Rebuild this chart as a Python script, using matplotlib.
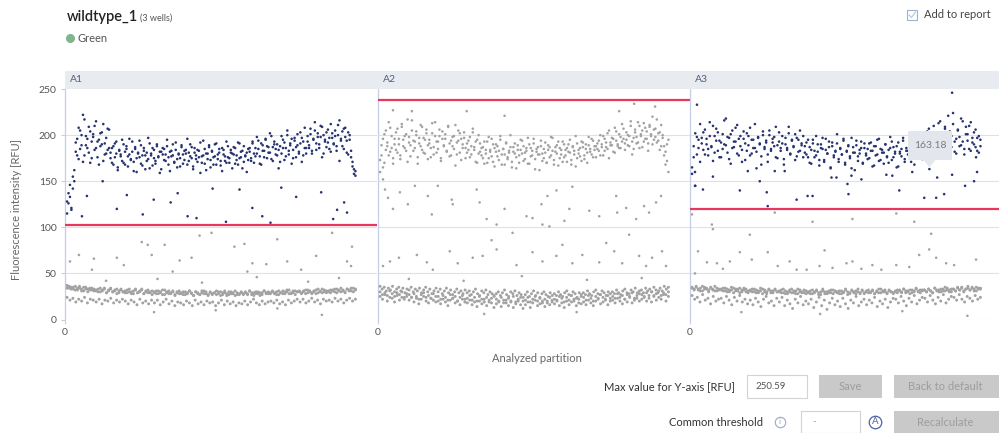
import numpy as np
import matplotlib.pyplot as plt
from matplotlib.patches import Rectangle, Polygon
from matplotlib.lines import Line2D
from matplotlib.transforms import IdentityTransform

plt.rcParams['font.family'] = ['Lato', 'DejaVu Sans']

W, H = 999, 433
Y_MAX = 250.59
X_MAX = 9110          # partition axis range of one well
X_START, X_END = 60, 8480

wells = ["A1", "A2", "A3"]
thresholds = [102.5, 238.0, 119.5]

# positive-cluster droplets, in partition order (two read passes per well)
A1_POS = [115, 126, 133, 121, 142, 150,
          182, 196, 174, 205, 189, 222, 178, 199, 186, 209, 170, 193, 201, 184, 215, 176, 195, 188, 203, 172, 191, 180, 207, 186,
          175, 186, 168, 191, 180, 162, 184, 177, 195, 170, 182, 188,
          166, 179, 174, 193, 171, 185, 160, 181, 176, 189, 167, 183,
          178, 172, 197, 164, 180, 186, 175, 169, 190, 177, 182, 163,
          179, 185, 172, 188, 176, 161, 183, 178, 170, 192, 174, 180,
          166, 187, 179, 173, 184, 168, 181, 190, 175, 163, 186, 178,
          171, 183, 159, 177, 194, 169, 180, 174, 187, 165, 182, 176,
          190, 168, 179, 185, 172, 161, 184, 177, 170, 188, 175, 181,
          164, 179, 186, 173, 168, 191, 176, 183, 171, 178, 160, 185,
          182, 175, 191, 170, 186, 180, 194, 177, 168, 189,
          183, 196, 175, 187, 181, 199, 172, 190, 185, 178,
          164, 188, 180, 195, 173, 186, 200, 179, 191, 169,
          184, 197, 176, 189, 182, 203, 171, 193, 186, 180,
          193, 186, 201, 180, 195, 205, 184, 198, 190, 210,
          176, 200, 193, 187, 206, 197, 182, 202, 191, 199,
          188, 211, 172, 196, 204, 185, 208, 194, 179, 200,
          176, 166, 158, 161]
A1_POS_B = [128, 137, 146, 119, 155, 162,
            192, 178, 208, 185, 200, 171, 217, 189, 196, 181, 204, 175, 198, 210, 186, 193, 168, 202, 190, 212, 179, 197, 184, 206,
            181, 170, 188, 176, 193, 165, 183, 179, 172, 190, 168, 185,
            177, 196, 173, 182, 161, 187, 175, 180, 194, 169, 178, 186,
            163, 181, 174, 191, 178, 167, 184, 172, 188, 176, 159, 182,
            186, 173, 179, 195, 168, 182, 177, 190, 171, 184, 165, 179,
            175, 189, 169, 183, 180, 196, 172, 177, 187, 166, 181, 174,
            184, 176, 192, 170, 178, 185, 162, 180, 189, 173, 183, 168,
            177, 191, 174, 181, 167, 186, 179, 172, 193, 176, 170, 184,
            180, 187, 169, 178, 192, 175, 182, 164, 188, 177, 181, 173,
            186, 172, 193, 180, 177, 198, 185, 169, 191, 183,
            176, 195, 188, 181, 202, 174, 187, 193, 179, 190,
            184, 171, 199, 186, 192, 177, 205, 183, 189, 196,
            175, 194, 187, 201, 180, 191, 197, 178, 208, 186,
            199, 189, 207, 183, 196, 214, 191, 202, 186, 198,
            209, 180, 195, 203, 192, 185, 212, 197, 190, 205,
            183, 200, 216, 194, 188, 207, 198, 181, 203, 195,
            183, 171, 163, 156]
A2_POS = [160, 178, 196, 170, 205, 188, 214, 182, 199, 175,
          196, 184, 207, 190, 178, 212, 195, 186, 201, 171,
          198, 189, 216, 183, 193, 204, 176, 197, 188, 209,
          181, 195, 202, 174, 191, 186, 213, 179, 199, 193,
          185, 206, 172, 196, 189, 201, 183, 210, 177, 194,
          188, 199, 167, 192, 205, 181, 196, 186, 203, 175,
          191, 184, 198, 179, 207, 187, 193, 170, 200, 182,
          186, 175, 193, 180, 170, 198, 184, 177, 190, 166,
          182, 188, 173, 195, 179, 185, 168, 191, 176, 183,
          200, 171, 187, 180, 164, 189, 178, 184, 194, 172,
          181, 186, 169, 190, 177, 183, 196, 174, 185, 179,
          162, 188, 180, 175, 192, 170, 184, 187, 178, 197,
          173, 182, 189, 167, 186, 179, 193, 176, 184, 171,
          190, 181, 168, 187, 183, 199, 175, 180, 186, 172,
          192, 178, 185, 170, 189, 182, 196, 176, 184, 188,
          185, 194, 178, 190, 199, 183, 187, 202, 175, 192,
          189, 196, 181, 204, 190, 186, 198, 193, 207, 184,
          195, 200, 188, 210, 179, 197, 203, 191, 214, 186,
          199, 205, 193, 208, 196, 183, 211, 201, 190, 206,
          198, 217, 194, 203, 188, 200, 178, 168, 190, 160]
A2_POS_B = [173, 189, 165, 201, 184, 192, 178, 208, 186, 169,
            190, 203, 181, 196, 174, 209, 188, 199, 183, 217,
            192, 177, 205, 194, 186, 200, 169, 191, 211, 184,
            197, 180, 206, 189, 195, 176, 202, 187, 214, 181,
            193, 199, 175, 204, 188, 196, 182, 209, 191, 178,
            198, 185, 211, 179, 194, 202, 173, 190, 197, 186,
            181, 194, 176, 188, 203, 184, 171, 195, 180, 191,
            178, 187, 169, 184, 193, 175, 182, 196, 171, 186,
            190, 177, 183, 199, 168, 185, 179, 192, 174, 181,
            187, 165, 182, 191, 176, 184, 170, 195, 180, 188,
            174, 183, 197, 169, 186, 178, 191, 163, 182, 187,
            179, 194, 172, 185, 181, 170, 189, 176, 198, 183,
            168, 187, 180, 193, 175, 184, 171, 190, 178, 186,
            182, 195, 173, 188, 179, 166, 191, 184, 177, 193,
            187, 174, 190, 181, 198, 185, 179, 194, 188, 176,
            191, 183, 200, 187, 178, 196, 192, 185, 205, 189,
            197, 182, 208, 194, 188, 201, 186, 212, 196, 191,
            203, 189, 199, 215, 193, 185, 206, 198, 192, 210,
            201, 187, 213, 196, 204, 191, 209, 199, 220, 195,
            207, 192, 202, 184, 211, 197, 188, 182, 172, 195]
A3_POS = [158, 176, 145, 198, 186, 212,
          191, 203, 179, 196, 185, 214, 188, 172, 199, 207,
          183, 194, 176, 201, 190, 218, 181, 197, 169, 205,
          187, 193, 211, 178, 199, 184, 196, 173, 202, 189,
          208, 180, 195, 186, 164, 198, 191, 177, 204, 185,
          192, 171, 200, 183, 196, 188, 209, 175, 193, 186,
          199, 168, 190, 184, 202, 179, 195, 187, 173, 197,
          182, 205, 189, 176,
          188, 179, 195, 170, 184, 191, 176, 199, 182, 167,
          190, 185, 173, 196, 180, 187, 164, 192, 178, 183,
          201, 171, 186, 179, 194, 168, 182, 188, 175, 197,
          181, 162, 189, 177, 184, 193, 170, 186, 180, 174,
          191, 183, 166, 188, 178, 195, 172, 185, 181, 169,
          190, 176, 184, 198, 173, 187, 180, 165, 192, 182,
          177, 194, 171, 186, 183, 200, 175, 189, 168, 184,
          196, 179, 188, 174,
          192, 181, 204, 186, 197, 175, 210, 189, 200, 183,
          215, 194, 178, 207, 190, 221, 186, 199, 212, 182,
          196, 205, 188, 218, 193, 179, 209, 201, 185, 214,
          197, 190, 206, 183, 199, 188]
A3_POS_B = [165, 188, 202, 179, 195, 171,
            197, 184, 206, 190, 178, 199, 187, 210, 181, 194,
            203, 176, 192, 185, 216, 189, 198, 174, 201, 186,
            193, 208, 180, 196, 188, 171, 204, 191, 183, 199,
            178, 195, 186, 212, 182, 197, 190, 168, 200, 187,
            194, 179, 205, 185, 192, 198, 176, 189, 203, 183,
            191, 174, 197, 186, 209, 180, 194, 188, 201, 177,
            195, 183, 191, 199,
            181, 192, 176, 187, 169, 195, 183, 178, 190, 173,
            186, 197, 171, 184, 180, 193, 165, 188, 176, 182,
            191, 174, 185, 179, 196, 170, 183, 189, 177, 164,
            187, 181, 194, 172, 180, 186, 169, 191, 178, 185,
            175, 192, 183, 167, 188, 179, 196, 173, 184, 181,
            190, 177, 170, 186, 193, 176, 182, 188, 166, 180,
            185, 197, 174, 183, 179, 191, 171, 186, 194, 178,
            182, 189, 176, 192,
            186, 198, 183, 207, 191, 178, 202, 195, 188, 213,
            184, 200, 192, 209, 181, 196, 204, 187, 224, 193,
            180, 206, 198, 189, 215, 185, 201, 194, 210, 183,
            192, 203, 187, 197, 181, 195]

# negative droplets
A1_NEG_HI = [37, 34, 35, 33, 36, 32, 34, 31, 35, 33, 30, 34, 32, 33,
             31, 33, 30, 32, 34, 29, 31, 33, 30, 32, 28, 31, 33, 30,
             29, 32, 30, 28, 31, 33, 29, 30, 32, 28, 31, 29, 30, 27,
             30, 28, 31, 29, 27, 32, 30, 28, 29, 31, 27, 30, 28, 29,
             27, 30, 28, 31, 29, 26, 30, 28, 27, 29, 31, 28, 26, 30,
             28, 29, 27, 30, 26, 29, 31, 28, 27, 30, 28, 26, 29, 27,
             29, 27, 30, 28, 31, 27, 29, 28, 30, 26, 29, 31, 28, 30,
             28, 30, 29, 27, 31, 29, 28, 30, 32, 28, 29, 31, 27, 30,
             30, 29, 31, 28, 32, 30, 29, 31, 28, 33, 30, 29, 32, 31,
             31, 29, 32, 30, 33, 31, 30, 32, 29, 33, 31, 34, 30, 32]
A1_NEG_HI2 = [34, 36, 33, 35, 32, 34, 36, 33, 31, 35, 33, 32, 34, 31,
              32, 30, 34, 31, 33, 29, 32, 34, 30, 31, 33, 29, 32, 30,
              31, 29, 33, 30, 28, 32, 29, 31, 33, 28, 30, 32, 29, 31,
              29, 31, 28, 30, 32, 27, 29, 31, 28, 30, 26, 29, 31, 28,
              30, 27, 29, 31, 28, 26, 30, 29, 27, 31, 28, 30, 27, 29,
              27, 29, 31, 28, 30, 27, 29, 26, 30, 28, 29, 31, 27, 28,
              30, 28, 29, 27, 31, 29, 26, 30, 28, 29, 27, 31, 29, 28,
              29, 31, 28, 30, 27, 29, 31, 28, 30, 32, 28, 29, 31, 30,
              31, 28, 30, 32, 29, 31, 28, 30, 32, 29, 31, 33, 30, 29,
              30, 32, 31, 33, 29, 32, 34, 31, 30, 33, 32, 31, 34, 33]
A1_NEG_LO = [24, 21, 23, 19, 22, 20, 24, 18, 22, 21,
             19, 22, 17, 21, 20, 23, 18, 21, 19, 22,
             20, 17, 21, 19, 16, 22, 18, 20, 17, 21,
             18, 21, 16, 19, 22, 17, 20, 15, 19, 18,
             16, 20, 18, 15, 21, 17, 19, 16, 20, 18,
             19, 15, 18, 21, 16, 20, 17, 19, 15, 18,
             17, 20, 16, 19, 22, 18, 16, 20, 17, 19,
             20, 18, 21, 17, 19, 16, 21, 18, 20, 22,
             19, 22, 18, 20, 23, 19, 21, 17, 22, 20,
             21, 19, 23, 20, 22, 18, 21, 23, 20, 22]
A2_NEG_HI = [36, 33, 35, 31, 34, 32, 36, 30, 33, 35, 31, 34, 29, 33,
             32, 35, 30, 33, 31, 34, 29, 32, 35, 30, 33, 28, 31, 34,
             30, 33, 28, 31, 34, 29, 32, 27, 30, 33, 29, 31, 28, 32,
             29, 31, 27, 30, 33, 28, 26, 31, 29, 32, 27, 30, 28, 25,
             28, 30, 26, 29, 32, 27, 25, 30, 28, 31, 26, 29, 27, 24,
             27, 30, 25, 28, 31, 26, 29, 24, 28, 30, 27, 25, 29, 26,
             28, 26, 30, 27, 25, 29, 31, 27, 26, 30, 28, 24, 29, 27,
             29, 27, 31, 28, 26, 30, 32, 28, 27, 31, 29, 26, 30, 28,
             30, 28, 32, 29, 27, 31, 33, 29, 28, 32, 30, 34, 29, 31,
             32, 29, 34, 31, 33, 30, 35, 32, 29, 34, 31, 36, 33, 35]
A2_NEG_MID = [30, 27, 29, 26, 31, 28, 25, 29, 27, 30, 24, 28,
              27, 24, 28, 25, 22, 27, 29, 24, 26, 23, 28, 25,
              25, 22, 26, 24, 21, 27, 23, 25, 20, 24, 26, 22,
              23, 26, 21, 24, 20, 25, 22, 19, 24, 21, 23, 26,
              22, 19, 24, 21, 18, 23, 20, 25, 19, 22, 24, 20,
              21, 24, 19, 22, 25, 20, 23, 18, 22, 20, 24, 21,
              22, 20, 25, 23, 19, 24, 21, 26, 20, 23, 22, 25,
              24, 21, 26, 23, 20, 25, 22, 27, 24, 21, 26, 23,
              25, 23, 28, 24, 26, 22, 27, 25, 29, 23, 26, 28,
              27, 24, 29, 26, 30, 25, 28, 31, 26, 29, 27, 30]
A2_NEG_LO = [25, 22, 27, 20, 24, 23, 19, 26, 21, 24, 22, 25,
             21, 24, 19, 23, 17, 22, 25, 20, 18, 23, 21, 19,
             20, 17, 22, 19, 15, 21, 23, 18, 20, 16, 22, 19,
             18, 21, 16, 19, 14, 20, 17, 22, 15, 19, 18, 13,
             17, 20, 14, 18, 21, 15, 19, 13, 17, 20, 16, 12,
             16, 19, 13, 18, 21, 15, 17, 20, 14, 18, 16, 19,
             17, 21, 15, 18, 13, 20, 16, 19, 22, 15, 18, 17,
             19, 16, 21, 18, 15, 20, 23, 17, 19, 22, 16, 20,
             21, 18, 23, 20, 17, 22, 19, 24, 18, 21, 23, 20,
             22, 25, 20, 23, 19, 26, 21, 24, 22, 27, 20, 25]
A3_NEG_HI = [35, 33, 36, 32, 34, 31, 35, 33, 30, 34, 32, 36, 31, 33,
             33, 31, 34, 30, 32, 35, 29, 33, 31, 34, 30, 32, 33, 29,
             32, 30, 33, 29, 31, 34, 28, 32, 30, 33, 29, 31, 32, 30,
             31, 29, 33, 28, 30, 32, 29, 31, 28, 33, 30, 29, 32, 28,
             30, 28, 32, 29, 31, 27, 30, 33, 28, 30, 29, 32, 28, 31,
             29, 31, 28, 30, 32, 27, 29, 31, 30, 28, 33, 29, 31, 28,
             30, 32, 29, 31, 28, 30, 33, 29, 31, 30, 28, 32, 30, 29,
             31, 29, 32, 30, 33, 29, 31, 28, 32, 30, 34, 31, 29, 32,
             32, 30, 33, 31, 29, 34, 32, 30, 33, 31, 35, 32, 30, 33,
             33, 31, 35, 32, 34, 30, 33, 36, 32, 34, 31, 35, 33, 34]
A3_NEG_HI2 = [34, 32, 35, 33, 31, 36, 33, 34, 32, 35, 33, 31, 34, 32,
              32, 34, 31, 33, 30, 32, 34, 31, 33, 29, 32, 34, 30, 31,
              31, 33, 30, 32, 29, 31, 33, 30, 28, 32, 31, 29, 33, 30,
              30, 32, 29, 31, 28, 30, 33, 29, 31, 28, 32, 30, 29, 31,
              29, 31, 28, 30, 32, 29, 27, 31, 30, 28, 31, 29, 32, 30,
              30, 28, 31, 29, 33, 30, 28, 32, 29, 31, 30, 28, 32, 29,
              31, 29, 30, 32, 28, 31, 29, 33, 30, 32, 29, 31, 30, 28,
              30, 32, 31, 29, 33, 31, 30, 32, 29, 31, 33, 30, 32, 31,
              32, 30, 33, 31, 29, 34, 31, 32, 30, 33, 31, 34, 32, 30,
              33, 31, 34, 32, 35, 31, 33, 34, 32, 35, 33, 31, 34, 33]
A3_NEG_LO = [26, 22, 24, 19, 27, 21, 23, 17, 25, 20, 22,
             23, 18, 25, 21, 16, 24, 20, 26, 19, 22, 17,
             21, 16, 23, 19, 14, 22, 25, 18, 20, 15, 23,
             19, 24, 15, 21, 17, 12, 22, 18, 25, 16, 20,
             17, 22, 13, 19, 24, 15, 21, 11, 18, 23, 16,
             20, 14, 23, 17, 12, 21, 18, 25, 15, 19, 22,
             16, 21, 18, 24, 14, 20, 17, 22, 13, 19, 23,
             22, 18, 25, 20, 15, 23, 19, 26, 17, 21, 24,
             23, 19, 26, 21, 17, 24, 20, 27, 18, 22, 25,
             24, 21, 27, 22, 19, 25, 23, 20, 26, 22, 24]

# scattered droplets between the clusters ("rain"), partition / RFU
A1_RAIN_X = [640, 495, 1513, 1805, 2270, 2590, 3085, 3290, 3580, 3840, 4310, 5095, 5470, 5760,
             6315, 6750, 7480, 7830, 7945, 8150, 8235, 1100, 4700, 6000,
             146, 407, 786, 844, 1513, 1717, 2241, 2416, 2532, 2910, 3143, 3347, 3696, 3929,
             4278, 4947, 5238, 5325, 5471, 5878, 6198, 6489, 6897, 7334, 7800, 8236, 8381, 8352,
             1200, 2700, 4000, 5600, 7100, 8000, 2600, 4400, 7500, 6200]
A1_RAIN_Y = [134, 112, 120, 135, 114, 130, 127, 137, 112, 110, 142, 141, 121, 112,
             143, 133, 138, 109, 119, 127, 116, 150, 106, 105,
             63, 70, 54, 66, 67, 59, 84, 81, 70, 81, 52, 64, 67, 91,
             94, 79, 82, 52, 61, 60, 87, 63, 54, 69, 94, 63, 79, 58,
             42, 44, 40, 46, 41, 45, 8, 10, 5, 12]
A2_RAIN_X = [437, 990, 2590, 3696, 7042, 7479, 8090,
             146, 204, 291, 437, 640, 873, 1077, 1455, 1571, 1746, 2153, 2183, 2881, 2968,
             3172, 3463, 3696, 4336, 4511, 4772, 4802, 4947, 5209, 5442, 5587, 5675, 6169, 6460,
             6955, 6984, 7246, 7537, 7770, 7915, 8119, 8264,
             146, 349, 611, 1135, 1426, 1601, 2095, 2328, 2765, 3056, 3317, 3463, 3929, 4045,
             4511, 4802, 5005, 5209, 5384, 5675, 5966, 6460, 6664, 6897, 7130, 7333, 7624, 7828,
             8003, 8294, 8410, 900, 2500, 4200, 6100, 7700, 3100, 5800]
A2_RAIN_Y = [227, 226, 226, 221, 226, 234, 231,
             152, 141, 132, 120, 138, 125, 145, 134, 114, 145, 130, 125, 141, 127,
             109, 103, 120, 112, 110, 125, 103, 134, 140, 107, 120, 144, 118, 112,
             134, 116, 121, 109, 123, 116, 127, 134,
             58, 63, 67, 70, 62, 54, 74, 61, 67, 69, 86, 76, 94, 59,
             73, 63, 101, 69, 81, 61, 70, 62, 83, 74, 61, 92, 69, 58,
             67, 74, 58, 44, 42, 47, 43, 45, 6, 8]
A3_RAIN_X = [204, 146, 146, 378, 669, 1455, 1688, 2037, 2241, 2270, 2474, 2765, 3114, 3434,
             3579, 4132, 4277, 4598, 4627, 4714, 5005, 5733, 5907, 6111, 6489, 6839, 6990, 7188,
             7217, 7421, 7653, 7653, 8032, 8294, 8352, 8381,
             58, 640, 669, 1746, 2474, 3579, 4743, 6024, 6548, 7042,
             233, 495, 786, 960, 1164, 1455, 1804, 2270, 2561, 2910, 3114, 3405, 3783, 3929,
             4161, 4569, 4743, 5005, 5325, 5587, 6024, 6402, 6693, 6984, 7188, 7479, 7712, 8352,
             146, 1500, 3800, 6200, 8100]
A3_RAIN_Y = [233, 160, 145, 141, 155, 140, 161, 150, 138, 123, 161, 161, 130, 134,
             134, 154, 154, 147, 136, 156, 152, 157, 156, 140, 160, 132, 163.18, 132,
             154, 136, 246, 157, 145, 150, 176, 160,
             114, 103, 98, 92, 116, 106, 109, 115, 106, 93,
             74, 62, 61, 55, 63, 73, 65, 73, 58, 63, 54, 54, 58, 75,
             56, 61, 63, 55, 59, 54, 59, 57, 70, 76, 67, 61, 59, 65,
             50, 8, 6, 9, 4]

CLUSTERS = [
    [A1_NEG_LO, A1_NEG_HI, A1_NEG_HI2, A1_POS, A1_POS_B],
    [A2_NEG_LO, A2_NEG_MID, A2_NEG_HI, A2_POS, A2_POS_B],
    [A3_NEG_LO, A3_NEG_HI, A3_NEG_HI2, A3_POS, A3_POS_B],
]
RAIN_X = [A1_RAIN_X, A2_RAIN_X, A3_RAIN_X]
RAIN_Y = [A1_RAIN_Y, A2_RAIN_Y, A3_RAIN_Y]

# hovered droplet
TIP_WELL, TIP_X, TIP_Y = 2, 6990, 163.18

BLUE = '#26336f'
GRAY = '#a2a2a2'
GRID = '#dbe1f2'
EDGE = '#c6cde6'
RED = '#e8365d'


def fx(x):
    return x / W


def fy(y):
    return 1 - y / H


def ftext(x, y, s, **kw):
    kw.setdefault('va', 'center')
    fig.text(fx(x), fy(y), s, **kw)


def fbox(x0, y0, x1, y1, **kw):
    fig.add_artist(Rectangle((fx(x0), fy(y1)), (x1 - x0) / W, (y1 - y0) / H,
                             transform=fig.transFigure, **kw))


def fdot(x, y, size, **kw):
    fig.add_artist(Line2D([fx(x)], [fy(y)], marker='o', markersize=size, linestyle='none',
                          transform=fig.transFigure, **kw))


def draw_well(ax, i):
    thr = thresholds[i]
    for vals in CLUSTERS[i]:
        y = np.array(vals, dtype=float)
        x = np.linspace(X_START, X_END, len(y))
        size = 4.5 if y.mean() < 60 else 3.4
        ax.scatter(x, y, s=size, c=np.where(y > thr, BLUE, GRAY), linewidths=0, zorder=3)
    ry = np.array(RAIN_Y[i], dtype=float)
    ax.scatter(RAIN_X[i], ry, s=3.4, c=np.where(ry > thr, BLUE, GRAY), linewidths=0, zorder=3)

    ax.axhline(thr, color=RED, lw=1.6, zorder=4)
    for g in [0, 50, 100, 150, 200]:
        ax.axhline(g, color=GRID, lw=0.8, zorder=1)

    ax.set_xlim(0, X_MAX)
    ax.set_ylim(0, Y_MAX)
    for s in ['top', 'right', 'bottom']:
        ax.spines[s].set_visible(False)
    ax.spines['left'].set_color(EDGE)
    ax.spines['left'].set_linewidth(0.9)
    ax.set_xticks([0])
    ax.set_xticklabels(['0'])
    ax.set_yticks([0, 50, 100, 150, 200, 250])
    ax.tick_params(colors=EDGE, labelcolor='#555555', labelsize=7.5, length=3, width=0.8, pad=3)
    if i > 0:
        ax.tick_params(axis='y', left=False, labelleft=False)


fig = plt.figure(figsize=(W / 100, H / 100), dpi=100)

# well header strip
fbox(65, 71, 999, 89, facecolor='#e8ebf0', edgecolor='none')

lefts = [65, 378, 690]
axes = []
for i, x0 in enumerate(lefts):
    ax = fig.add_axes([fx(x0), fy(319.5), 312 / W, 231 / H])
    draw_well(ax, i)
    axes.append(ax)
    ftext(x0 + 5, 80, wells[i], fontsize=7.5, color='#50607f')

# tooltip over the hovered droplet
fig.canvas.draw()
tx, ty = axes[TIP_WELL].transData.transform((TIP_X, TIP_Y))
tip_y = ty + 2
fig.add_artist(Rectangle((tx - 21, tip_y + 7), 44, 29, transform=IdentityTransform(),
                         facecolor='#e3e6ec', edgecolor='none', zorder=5))
fig.add_artist(Polygon([(tx - 6, tip_y + 7), (tx + 6, tip_y + 7), (tx, tip_y)],
                       transform=IdentityTransform(), facecolor='#e3e6ec', edgecolor='none', zorder=5))
fig.text(tx + 1, tip_y + 21.5, '163.18', transform=IdentityTransform(), ha='center', va='center',
         fontsize=7.5, color='#7c7c7c', zorder=6)

# header
ftext(67, 17, 'wildtype_1', fontsize=10.5, color='#222222', fontweight='semibold')
ftext(140, 18, '(3 wells)', fontsize=6.5, color='#555555')
fdot(70, 38, 5.5, color='#7fb68e')
ftext(77, 38.5, 'Green', fontsize=8, color='#555555')
fbox(907, 10, 917, 20, facecolor='white', edgecolor='#9fb2d6', lw=0.8)
fig.add_artist(Line2D([fx(909), fx(911.5), fx(915.5)], [fy(15), fy(17.5), fy(12)],
                      transform=fig.transFigure, color='#b8c4dc', lw=0.8))
ftext(924, 15, 'Add to report', fontsize=8, color='#444444')

# axis titles
ftext(17, 210, 'Fluorescence intensity [RFU]', fontsize=8, color='#666666', rotation=90, ha='center')
ftext(537, 359, 'Analyzed partition', fontsize=8, color='#666666', ha='center')

# y-axis controls
ftext(735, 386.5, 'Max value for Y-axis [RFU]', fontsize=8, color='#333333', ha='right')
fbox(747, 375, 807, 398, facecolor='white', edgecolor='#d3d3d3', lw=0.8)
ftext(756, 386.5, '250.59', fontsize=7, color='#555555')
fbox(819, 375, 882, 398, facecolor='#c9c9c9', edgecolor='none')
ftext(850.5, 386.5, 'Save', fontsize=8, color='#9d9d9d', ha='center')
fbox(894, 375, 1000, 398, facecolor='#c9c9c9', edgecolor='none')
ftext(945, 386.5, 'Back to default', fontsize=8, color='#9d9d9d', ha='center')

ftext(763, 422, 'Common threshold', fontsize=8, color='#333333', ha='right')
fdot(780, 421.5, 7.5, markerfacecolor='none', markeredgecolor='#9aa9c8', markeredgewidth=0.8)
ftext(780, 421.5, 'i', fontsize=6, color='#9aa9c8', ha='center')
fbox(801, 411, 860, 433, facecolor='white', edgecolor='#d3d3d3', lw=0.8)
ftext(812, 422, '-', fontsize=7, color='#999999')
fdot(875, 421.5, 9, markerfacecolor='none', markeredgecolor='#4f62a0', markeredgewidth=0.9)
ftext(875, 421.5, 'A', fontsize=7, color='#4f62a0', ha='center')
fbox(894, 411, 1000, 433, facecolor='#c9c9c9', edgecolor='none')
ftext(945, 422, 'Recalculate', fontsize=8, color='#9d9d9d', ha='center')

fig.savefig('out.png', dpi=100)
